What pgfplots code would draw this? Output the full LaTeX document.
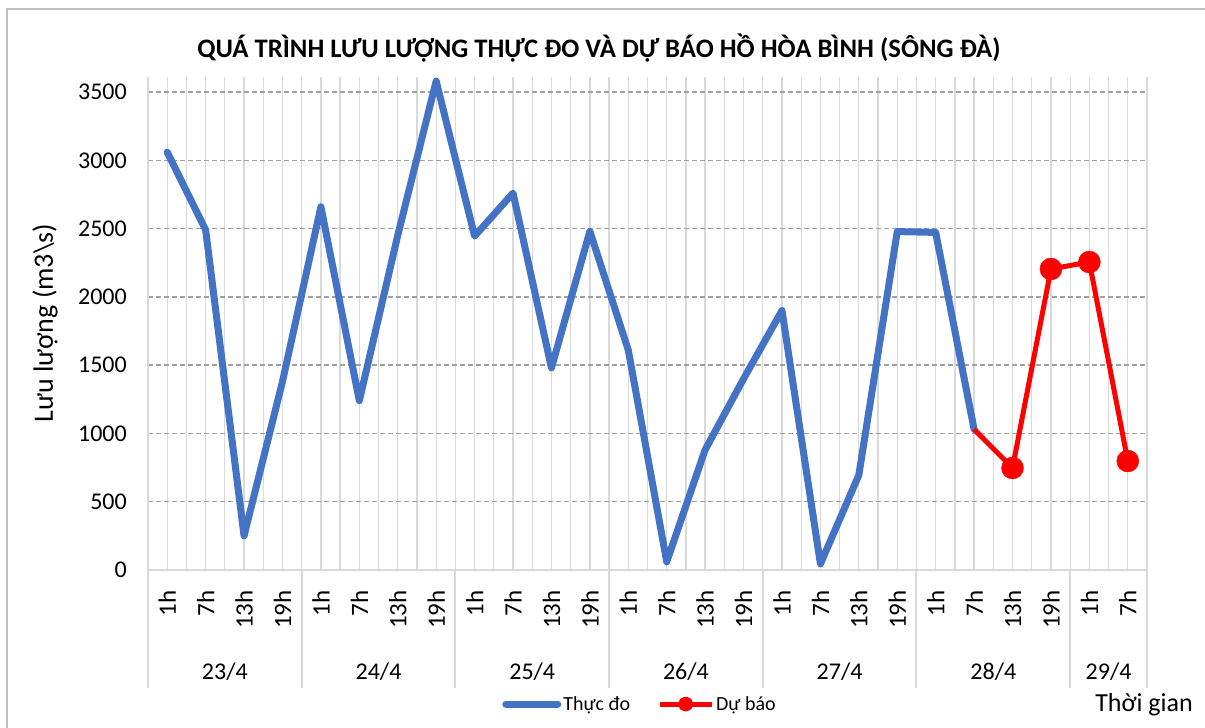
\documentclass[border=0pt]{standalone}
\usepackage{fontspec}
\setmainfont{Carlito}
\usepackage{pgfplots}
\pgfplotsset{compat=1.18}
\definecolor{xlblue}{HTML}{4472C4}
\definecolor{xlred}{HTML}{FF0000}
\definecolor{gridgray}{HTML}{D9D9D9}
\definecolor{dashgray}{HTML}{A0A0A0}
\definecolor{bordergray}{HTML}{BFBFBF}
\newcommand{\tickfont}{\fontsize{24pt}{28pt}\selectfont}
\newcommand{\xtickfont}{\fontsize{25pt}{28pt}\selectfont}
\newcommand{\legfont}{\fontsize{20pt}{24pt}\selectfont}
\newcommand{\labfont}{\fontsize{28pt}{32pt}\selectfont}
\newcommand{\xlabfont}{\fontsize{26pt}{30pt}\selectfont}
\newcommand{\titfont}{\fontsize{26.7pt}{30pt}\selectfont\bfseries}
\begin{document}
\begin{tikzpicture}
\useasboundingbox (0,0) rectangle (1205pt,728pt);
\fill[white] (0,0) rectangle (1205pt,728pt);
\draw[bordergray, line width=2pt] (7pt,0) -- (7pt,719pt) -- (1205pt,719pt);
\node[font=\titfont] at (599pt,680pt) {QUÁ TRÌNH LƯU LƯỢNG THỰC ĐO VÀ DỰ BÁO HỒ HÒA BÌNH (SÔNG ĐÀ)};
\node[font=\labfont, rotate=90] at (45pt,405pt) {Lưu lượng (m3\textbackslash s)};
\node[font=\xlabfont] at (1144pt,23pt) {Thời gian};
\begin{axis}[
  scale only axis, width=999pt, height=493pt,
  at={(148pt,158pt)}, anchor=south west,
  clip=false,
  xmin=-0.5, xmax=25.5, ymin=0, ymax=3610,
  xtick={0,...,25},
  xticklabels={1h,7h,13h,19h,1h,7h,13h,19h,1h,7h,13h,19h,1h,7h,13h,19h,1h,7h,13h,19h,1h,7h,13h,19h,1h,7h},
  minor x tick num=1,
  ytick={0,500,...,3500},
  xmajorgrids, xminorgrids, ymajorgrids,
  major x grid style={draw=gridgray, line width=1.3pt},
  minor x grid style={draw=gridgray, line width=1.3pt},
  major y grid style={draw=dashgray, line width=1.5pt, dash pattern=on 5pt off 3pt},
  tick style={draw=none},
  major tick length=0pt, minor tick length=0pt,
  axis line style={draw=none},
  /pgf/number format/assume math mode=true,
  /pgf/number format/1000 sep={},
  yticklabel style={font=\tickfont, anchor=east, inner sep=0pt, xshift=-21pt},
  xticklabel style={font=\xtickfont, inner sep=0pt, yshift=-20pt, rotate=90, anchor=east},
  legend style={at={(0.4925,-0.272)}, anchor=center, draw=none, fill=none, font=\legfont,
    /tikz/every even column/.append style={column sep=25pt}},
  legend columns=2,
]
\draw[gridgray, line width=1.3pt] (axis cs:-0.5,0) -- (axis cs:-0.5,3610);
\draw[gridgray, line width=1.3pt] (axis cs:25.5,0) -- (axis cs:25.5,3610);
\draw[gridgray, line width=2pt] (axis cs:-0.5,0) -- (axis cs:25.5,0);
\pgfplotsinvokeforeach{-0.5,3.5,7.5,11.5,15.5,19.5,23.5,25.5}{
  \draw[gridgray, line width=2pt] (axis cs:#1,0) -- ([yshift=-118pt]axis cs:#1,0);
}
\node[font=\tickfont] at (axis cs:1.5,0) [yshift=-102pt] {23/4};
\node[font=\tickfont] at (axis cs:5.5,0) [yshift=-102pt] {24/4};
\node[font=\tickfont] at (axis cs:9.5,0) [yshift=-102pt] {25/4};
\node[font=\tickfont] at (axis cs:13.5,0) [yshift=-102pt] {26/4};
\node[font=\tickfont] at (axis cs:17.5,0) [yshift=-102pt] {27/4};
\node[font=\tickfont] at (axis cs:21.5,0) [yshift=-102pt] {28/4};
\node[font=\tickfont] at (axis cs:24.5,0) [yshift=-102pt] {29/4};
\addplot[color=xlblue, line width=7pt, line join=round, line cap=round, mark=none,
  legend image code/.code={\draw[line width=7pt, line cap=round, color=xlblue] (0pt,0pt) -- (52pt,0pt);}]
  coordinates {(0,3060)(1,2490)(2,250)(3,1380)(4,2660)(5,1240)(6,2450)(7,3580)
  (8,2445)(9,2760)(10,1480)(11,2480)(12,1610)(13,60)(14,880)(15,1400)
  (16,1900)(17,45)(18,695)(19,2478)(20,2472)(21,1030)};
\addlegendentry{Thực đo}
\addplot[color=xlred, line width=5pt, line join=round, mark=none,
  legend image code/.code={\draw[line width=5pt, color=xlred] (0pt,0pt) -- (52pt,0pt); \fill[xlred] (26pt,0pt) circle (5pt);}]
  coordinates {(21,1030)(22,747)(23,2204)(24,2255)(25,798)};
\addlegendentry{Dự báo}
\addplot[only marks, mark=*, mark size=11pt, color=xlred, mark options={fill=xlred, draw=xlred}, forget plot]
  coordinates {(22,747)(23,2204)(24,2255)(25,798)};
\end{axis}
\end{tikzpicture}
\end{document}
